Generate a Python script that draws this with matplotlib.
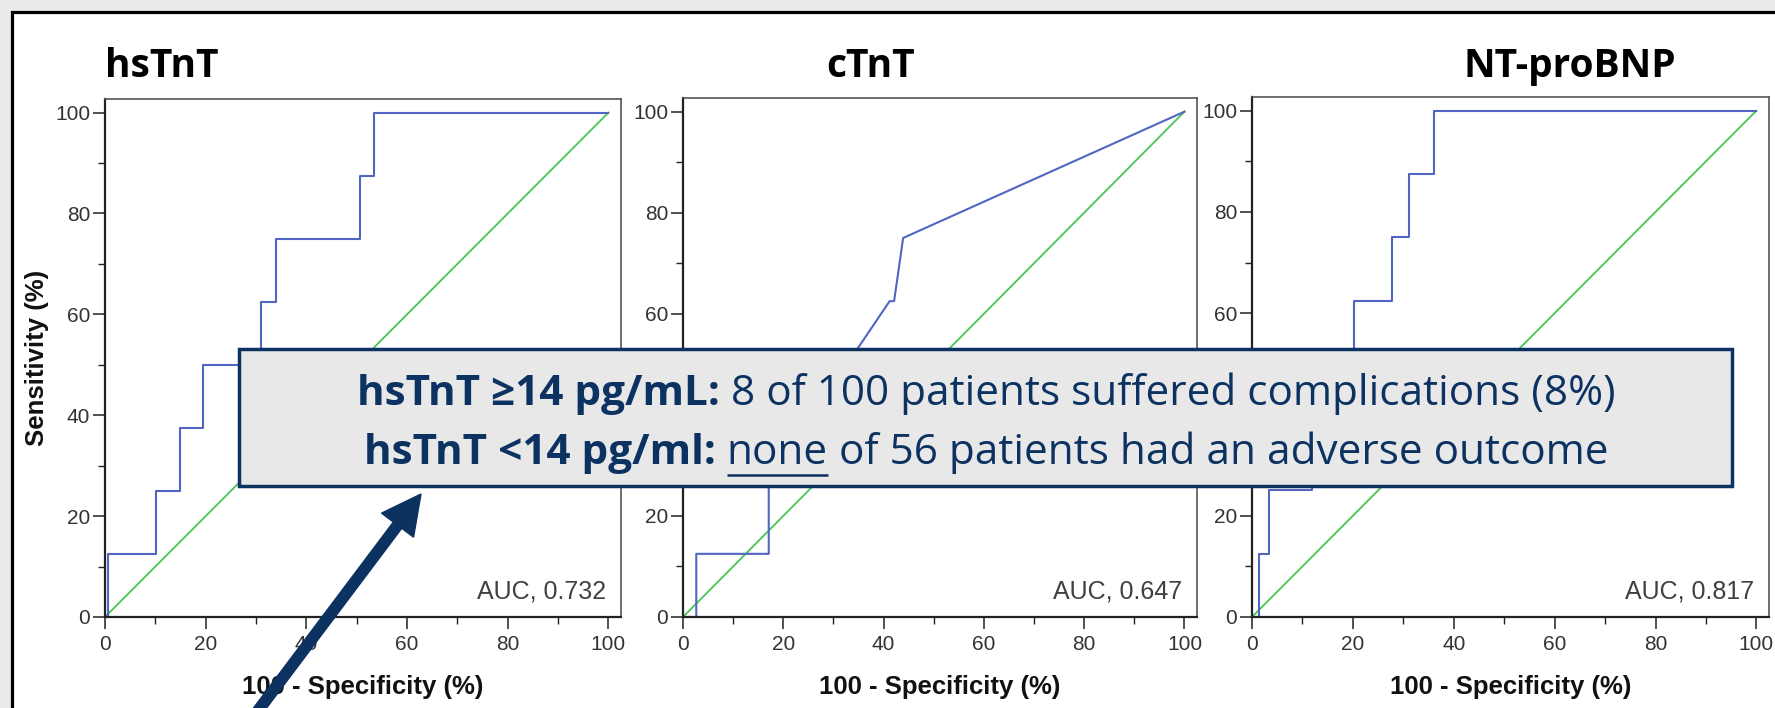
import matplotlib
matplotlib.use("Agg")
import matplotlib.pyplot as plt
from matplotlib.patches import Rectangle, FancyArrow
from matplotlib.ticker import MultipleLocator

W, H = 1775, 708

# ---- data ----
titles = ["hsTnT", "cTnT", "NT-proBNP"]
auc_values = [0.732, 0.647, 0.817]

# ROC vertices: 100 - specificity (%), sensitivity (%)
hstnt_fpr = [0, 0.6, 0.6, 10.1, 10.1, 14.8, 14.8, 19.5, 19.5, 30.9, 30.9,
             33.9, 33.9, 50.7, 50.7, 53.4, 53.4, 100]
hstnt_tpr = [0, 0, 12.5, 12.5, 25, 25, 37.5, 37.5, 50, 50, 62.5,
             62.5, 75, 75, 87.5, 87.5, 100, 100]

ctnt_fpr = [0, 2.65, 2.65, 17.1, 17.1, 32.7, 41.2, 42.1, 43.9, 100]
ctnt_tpr = [0, 0, 12.5, 12.5, 37.5, 50, 62.5, 62.5, 75, 100]

bnp_fpr = [0, 1.3, 1.3, 3.4, 3.4, 11.8, 11.8, 15.5, 15.5, 20.3, 20.3,
           27.7, 27.7, 31.1, 31.1, 36.0, 36.0, 100]
bnp_tpr = [0, 0, 12.5, 12.5, 25, 25, 37.5, 37.5, 50, 50, 62.5,
           62.5, 75, 75, 87.5, 87.5, 100, 100]

ref_line = [0, 100]

curves = [(hstnt_fpr, hstnt_tpr), (ctnt_fpr, ctnt_tpr), (bnp_fpr, bnp_tpr)]

ticks_major = [0, 20, 40, 60, 80, 100]

line1 = [("hsTnT \u226514 pg/mL:", "bold", False),
         ("8 of 100 patients suffered complications (8%)", "normal", False)]
line2 = [("hsTnT <14 pg/ml:", "bold", False),
         ("none", "normal", True),
         ("of 56 patients had an adverse outcome", "normal", False)]

# ---- layout (pixels) ----
panel_px = [(105, 621, 99, 617), (683, 1197, 98, 617), (1252, 1769, 97, 617)]
title_px = [(162, 77), (871, 77), (1570, 77)]

NAVY = "#0c3262"
BLUE = "#5165c2"
GREEN = "#48c553"
SANS = ["Liberation Sans", "DejaVu Sans"]
BOX_FONT = ["Open Sans", "DejaVu Sans"]

fig = plt.figure(figsize=(W / 100, H / 100), dpi=100)
fig.patch.set_facecolor("#ebebeb")

bg = fig.add_axes([0, 0, 1, 1], zorder=-5)
bg.set_xlim(0, W)
bg.set_ylim(H, 0)
bg.axis("off")
bg.add_patch(Rectangle((11.5, 11.5), W + 20, H + 20, facecolor="white",
                       edgecolor="black", linewidth=2.3))

for i, (l, r, t, b) in enumerate(panel_px):
    ax = fig.add_axes([l / W, 1 - b / H, (r - l) / W, (b - t) / H])
    fpr, tpr = curves[i]
    ax.plot(ref_line, ref_line, color=GREEN, lw=1.3)
    ax.plot(fpr, tpr, color=BLUE, lw=1.5)
    ax.set_xlim(0, 102.5)
    ax.set_ylim(0, 102.7)
    ax.set_xticks(ticks_major)
    ax.set_yticks(ticks_major)
    ax.xaxis.set_minor_locator(MultipleLocator(10))
    ax.yaxis.set_minor_locator(MultipleLocator(10))
    ax.tick_params(which="major", length=8.6, width=1.1, color="#222",
                   labelsize=15, labelcolor="#333")
    ax.tick_params(which="minor", length=5, width=1.0, color="#222")
    ax.tick_params(axis="x", which="major", pad=4)
    ax.tick_params(axis="y", which="major", pad=2)
    for lab in ax.get_xticklabels() + ax.get_yticklabels():
        lab.set_family(SANS)
    for side in ("left", "bottom"):
        ax.spines[side].set_linewidth(1.6)
        ax.spines[side].set_color("#222")
    for side in ("top", "right"):
        ax.spines[side].set_linewidth(1.2)
        ax.spines[side].set_color("#555")
    ax.set_xlabel("100 - Specificity (%)", fontsize=18.5, fontweight="bold",
                  family=SANS, color="#111")
    ax.xaxis.set_label_coords((l + r) / 2 / W * 0 + 0.5, -(687 - b) / (b - t))
    ax.xaxis.label.set_va("center")
    if i == 0:
        ax.set_ylabel("Sensitivity (%)", fontsize=18.5, fontweight="bold",
                      family=SANS, color="#111")
        ax.yaxis.set_label_coords(-(l - 37) / (r - l), 0.5)
        ax.yaxis.label.set_va("center")
    ax.text(99.5, 3.6, f"AUC, {auc_values[i]:.3f}", ha="right", va="baseline",
            fontsize=18, color="#404040", family=SANS)

ov = fig.add_axes([0, 0, 1, 1], zorder=10)
ov.set_xlim(0, W)
ov.set_ylim(H, 0)
ov.axis("off")

for (x, y), name in zip(title_px, titles):
    ov.text(x, y, name, ha="center", va="baseline", fontsize=28,
            fontweight="bold", family=BOX_FONT, color="black")

# callout box
ov.add_patch(Rectangle((239, 349), 1493, 137, facecolor="#e8e8e8",
                       edgecolor=NAVY, linewidth=2.5, zorder=2))

renderer = fig.canvas.get_renderer()


def text_width(s, size, weight):
    t = ov.text(0, 0, s, fontsize=size, fontweight=weight, family=BOX_FONT)
    w = t.get_window_extent(renderer).width
    t.remove()
    return w


def line_widths(segs, size):
    gap = text_width("n n", size, "normal") - text_width("nn", size, "normal")
    ws = [text_width(s, size, wt) for s, wt, _ in segs]
    return ws, gap


ws, gap = line_widths(line1, 20)
total = sum(ws) + gap * (len(ws) - 1)
box_size = 20 * 1255 / total

for segs, base in ((line1, 405), (line2, 464)):
    ws, gap = line_widths(segs, box_size)
    total = sum(ws) + gap * (len(ws) - 1)
    x = 986 - total / 2
    for (s, wt, under), w in zip(segs, ws):
        ov.text(x, base, s, ha="left", va="baseline", fontsize=box_size,
                fontweight=wt, family=BOX_FONT, color=NAVY, zorder=3)
        if under:
            ov.plot([x, x + w], [base + 10.5, base + 10.5], color=NAVY,
                    lw=1.8, solid_capstyle="butt", zorder=3)
        x += w + gap

# arrow pointing at the box
ov.add_patch(FancyArrow(257, 712, 164, -218, width=10.5, head_width=40,
                        head_length=39, length_includes_head=True,
                        color=NAVY, zorder=4))

fig.savefig("out.png", dpi=100, facecolor=fig.get_facecolor())
